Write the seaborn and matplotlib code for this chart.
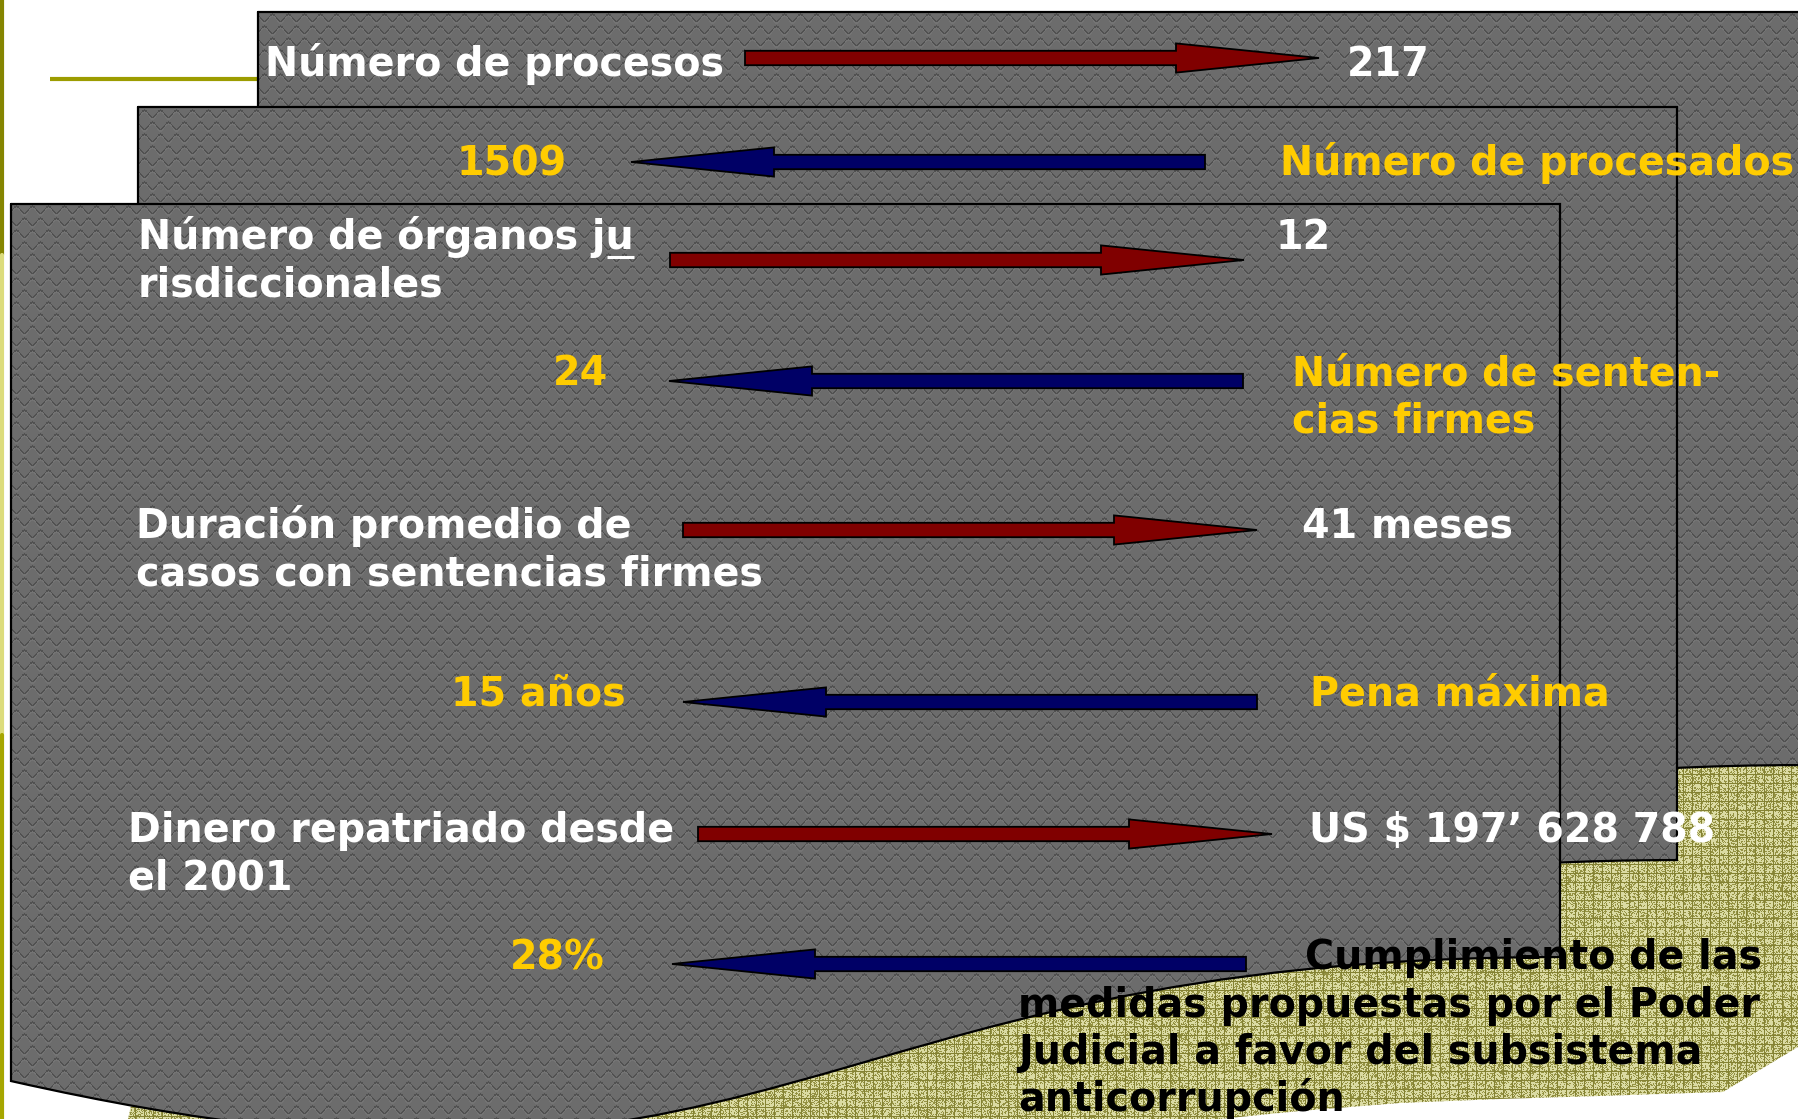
import numpy as np
import matplotlib
matplotlib.use("Agg")
import matplotlib.pyplot as plt
import seaborn as sns
from matplotlib.path import Path
from matplotlib.patches import PathPatch, Polygon

# slide content, one row per arrow
left_labels = [
    "Número de procesos",
    "1509",
    "Número de órganos ju\nrisdiccionales",
    "24",
    "Duración promedio de\ncasos con sentencias firmes",
    "15 años",
    "Dinero repatriado desde\nel 2001",
    "28%",
]
right_labels = [
    "217",
    "Número de procesados",
    "12",
    "Número de senten-\ncias firmes",
    "41 meses",
    "Pena máxima",
    "US $ 197’ 628 788",
    "Cumplimiento de las",
]
footnote_lines = [
    "medidas propuestas por el Poder",
    "Judicial a favor del subsistema",
    "anticorrupción",
]
arrow_dir = ["right", "left", "right", "left", "right", "left", "right", "left"]

# layout (pixels of the 1798x1119 slide)
W, H = 1798, 1119
row_baseline = [76, 175, 249, 385, 538, 706, 842, 969]
arrow_y = [58, 162, 260, 381, 530, 702, 834, 964]
arrow_x0 = [745, 631, 670, 669, 683, 683, 698, 672]
left_x = [265, 457, 138, 553, 136, 451, 128, 510]
right_x = [1347, 1280, 1276, 1292, 1302, 1310, 1309, 1305]
footnote_x = 1018
line_step = 47.5
ARROW_LEN, HEAD_LEN, SHAFT, HEAD = 574, 143, 7.2, 14.6

# the three stacked "document" cards: left, right, top
cards = [(258, 1803, 12), (138, 1677, 107), (11, 1560, 204)]
CARD_H = 939

YELLOW = "#FFCC00"
RED = "#800000"
NAVY = "#000066"
OLIVE = "#9c9c00"

sns.set_theme(style="white")
plt.rcParams["font.family"] = ["DejaVu Sans"]
FS = 28.5

fig = plt.figure(figsize=(W / 100, H / 100), dpi=100)
ax = fig.add_axes([0, 0, 1, 1])


def card_path(x0, x1, top, h):
    xm = (x0 + x1) / 2
    verts = [(x0, top), (x1, top), (x1, top + 0.802 * h),
             (xm, top + 0.802 * h), (xm, top + 1.12 * h), (x0, top + 0.934 * h),
             (x0, top)]
    codes = [Path.MOVETO, Path.LINETO, Path.LINETO,
             Path.CURVE4, Path.CURVE4, Path.CURVE4, Path.CLOSEPOLY]
    return Path(verts, codes)


# textures
yy, xx = np.mgrid[0:H, 0:W]
row = yy // 12
u = ((xx + (row % 2) * 8) % 16) / 16.0
v = (yy % 12) / 12.0
d = v - (0.45 + 0.3 * np.cos(2 * np.pi * u))
g = np.full((H, W), 0.425)
g[(d > 0.08) & (d < 0.2)] = 0.455
g[np.abs(d) < 0.08] = 0.32
gray_tex = np.dstack([g, g, g])

h = (xx.astype(np.int64) * 374761393 + yy.astype(np.int64) * 668265263) & 0xFFFFFFFF
h = ((h ^ (h >> 13)) * 1274126177) & 0xFFFFFFFF
speck = (h % 100) < 36
olive_tex = np.empty((H, W, 3))
olive_tex[:] = (0.86, 0.86, 0.64)
olive_tex[speck] = (0.58, 0.57, 0.26)
grid = ((xx % 9) == 0) | ((yy % 9) == 0)
olive_tex[grid] = (0.52, 0.51, 0.20)

# olive backdrop
olive_poly = [(128, 1119), (200, 800), (W, 740), (W, 1047), (1723, 1092),
              (1600, 1096), (1500, 1099), (1400, 1103), (1300, 1111), (1220, 1119)]
clip = Polygon(olive_poly, closed=True, transform=ax.transData)
im = ax.imshow(olive_tex, extent=(0, W, H, 0), interpolation="nearest", zorder=1)
im.set_clip_path(clip)

# cards
for i, (x0, x1, top) in enumerate(cards):
    p = card_path(x0, x1, top, CARD_H)
    z = 2 + i
    im = ax.imshow(gray_tex, extent=(0, W, H, 0), interpolation="nearest", zorder=z)
    im.set_clip_path(PathPatch(p, transform=ax.transData))
    outline = p.to_polygons()[0]
    ax.plot(outline[:, 0], outline[:, 1], color="black", lw=1.6,
            solid_joinstyle="miter", zorder=z + 0.5)

# olive rules at the left
ax.plot([50, 258], [79, 79], color=OLIVE, lw=3, solid_capstyle="butt", zorder=1.5)
ax.plot([1.5, 1.5], [0, 255], color="#858500", lw=3, zorder=6)
ax.plot([1.5, 1.5], [255, 735], color="#dcdc7c", lw=3, zorder=6)
ax.plot([1.5, 1.5], [735, H], color="#a6a600", lw=3, zorder=6)

# arrows
for x0, y, direction in zip(arrow_x0, arrow_y, arrow_dir):
    if direction == "right":
        hb = x0 + ARROW_LEN - HEAD_LEN
        pts = [(x0, y - SHAFT), (hb, y - SHAFT), (hb, y - HEAD), (x0 + ARROW_LEN, y),
               (hb, y + HEAD), (hb, y + SHAFT), (x0, y + SHAFT)]
        col = RED
    else:
        hb = x0 + HEAD_LEN
        pts = [(x0, y), (hb, y - HEAD), (hb, y - SHAFT), (x0 + ARROW_LEN, y - SHAFT),
               (x0 + ARROW_LEN, y + SHAFT), (hb, y + SHAFT), (hb, y + HEAD)]
        col = NAVY
    ax.add_patch(Polygon(pts, closed=True, facecolor=col, edgecolor="black",
                         lw=1.3, joinstyle="miter", zorder=8))

# labels
txt = dict(fontsize=FS, fontweight="bold", va="baseline", ha="left", zorder=10)
for i in range(len(left_labels)):
    col = "white" if arrow_dir[i] == "right" else YELLOW
    rcol = "black" if i == len(left_labels) - 1 else col
    for k, line in enumerate(left_labels[i].split("\n")):
        ax.text(left_x[i], row_baseline[i] + k * line_step, line, color=col, **txt)
    for k, line in enumerate(right_labels[i].split("\n")):
        ax.text(right_x[i], row_baseline[i] + k * line_step, line, color=rcol, **txt)
for k, line in enumerate(footnote_lines, start=1):
    ax.text(footnote_x, row_baseline[-1] + k * line_step, line, color="black", **txt)

# underline the "u" of "ju"
renderer = fig.canvas.get_renderer()
first = left_labels[2].split("\n")[0]
probe_full = ax.text(left_x[2], row_baseline[2], first, **txt)
probe_pre = ax.text(left_x[2], row_baseline[2], first[:-1], **txt)
u_end = probe_full.get_window_extent(renderer).x1
u_start = probe_pre.get_window_extent(renderer).x1
probe_full.remove()
probe_pre.remove()
ax.plot([u_start + 1, u_end], [row_baseline[2] + 8] * 2, color="white", lw=2.2,
        solid_capstyle="butt", zorder=10)

ax.set_xlim(0, W)
ax.set_ylim(H, 0)
ax.set_aspect("auto")
ax.axis("off")
fig.savefig("out.png", dpi=100, facecolor="white")
